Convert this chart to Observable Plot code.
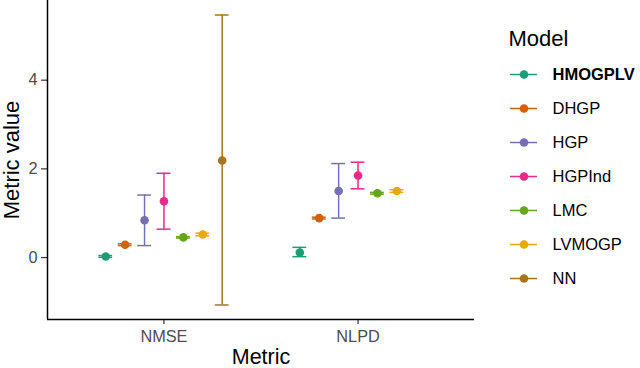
<!DOCTYPE html>
<html>
<head>
<meta charset="utf-8">
<script src="https://cdn.jsdelivr.net/npm/d3@7"></script>
<script src="https://cdn.jsdelivr.net/npm/@observablehq/plot@0.6"></script>
<style>
  body { margin: 0; background: white; }
  #wrap { position: relative; width: 640px; height: 368px; overflow: hidden; }
  #wrap svg { position: absolute; left: 0; top: 0; }
</style>
</head>
<body>
<div id="wrap"></div>
<script>
const metrics = ["NMSE", "NLPD"];
const models = ["HMOGPLV", "DHGP", "HGP", "HGPInd", "LMC", "LVMOGP", "NN"];
const colors = ["#1B9E77", "#D95F02", "#7570B3", "#E7298A", "#66A61E", "#E6AB02", "#A6761D"];
const nmseMean = [0.025, 0.29, 0.84, 1.27, 0.455, 0.52, 2.19];
const nmseLo   = [0.005, 0.27, 0.27, 0.64, 0.44, 0.49, -1.07];
const nmseHi   = [0.045, 0.31, 1.41, 1.90, 0.47, 0.55, 5.47];
const nlpdMean = [0.115, 0.89, 1.50, 1.85, 1.45, 1.50, null];
const nlpdLo   = [0.02, 0.87, 0.89, 1.55, 1.43, 1.47, null];
const nlpdHi   = [0.23, 0.91, 2.12, 2.15, 1.47, 1.53, null];
const yTicks = [0, 2, 4];

const font = "'Liberation Sans', Arial, Helvetica, sans-serif";

// build rows with dodge (width 0.7 across 7 models)
const series = [[nmseMean, nmseLo, nmseHi], [nlpdMean, nlpdLo, nlpdHi]];
const rows = [];
metrics.forEach((m, mi) => {
  models.forEach((mod, k) => {
    const [me, lo, hi] = series[mi];
    if (me[k] == null) return;
    rows.push({metric: m, model: mod, x: mi + 1 + (k - 3) * 0.1, mean: me[k], lo: lo[k], hi: hi[k]});
  });
});
const capHalf = 0.5 / 7 / 2;

// ggplot-style expansion
const allLo = d3.min(rows, d => d.lo), allHi = d3.max(rows, d => d.hi);
const pad = (allHi - allLo) * 0.05;
const xDomain = [0.4, 2.6];
const yDomain = [allLo - pad, allHi + pad];

const main = Plot.plot({
  width: 640, height: 368,
  marginLeft: 47, marginRight: 166, marginTop: 0, marginBottom: 49,
  style: {fontFamily: font, fontSize: "16.3px", color: "#4D4D4D", background: "white"},
  x: {domain: xDomain, label: null, axis: null},
  y: {domain: yDomain, label: null, axis: null},
  color: {domain: models, range: colors},
  marks: [
    Plot.axisX({ticks: [1, 2], tickFormat: i => metrics[i - 1], tickSize: 5, tickPadding: 6, label: null, stroke: "#333333", fill: "#4D4D4D", strokeWidth: 1.2}),
    Plot.axisY({ticks: yTicks, tickSize: 6, tickPadding: 4, label: null, stroke: "#333333", fill: "#4D4D4D", strokeWidth: 1.2}),
    Plot.ruleX([xDomain[0]], {stroke: "black", strokeWidth: 1.5}),
    Plot.ruleY([yDomain[0]], {stroke: "black", strokeWidth: 1.5}),
    Plot.ruleX(rows, {x: "x", y1: "lo", y2: "hi", stroke: "model", strokeWidth: 1.5}),
    Plot.ruleY(rows, {x1: d => d.x - capHalf, x2: d => d.x + capHalf, y: "hi", stroke: "model", strokeWidth: 1.5}),
    Plot.ruleY(rows, {x1: d => d.x - capHalf, x2: d => d.x + capHalf, y: "lo", stroke: "model", strokeWidth: 1.5}),
    Plot.dot(rows, {x: "x", y: "mean", fill: "model", r: 4.3}),
    Plot.text(["Metric"], {frameAnchor: "bottom", dy: 37.4, fontSize: 21.5, fill: "black", textAnchor: "middle", lineAnchor: "middle"}),
    Plot.text(["Metric value"], {frameAnchor: "left", dx: -35.9, rotate: -90, fontSize: 22, fill: "black", textAnchor: "middle", lineAnchor: "middle"})
  ]
});

const legend = Plot.plot({
  width: 640, height: 368,
  marginLeft: 510, marginRight: 103, marginTop: 73.3, marginBottom: 89.7,
  style: {fontFamily: font, fontSize: "16.5px", color: "black", background: "transparent"},
  y: {type: "point", domain: models, padding: 0, axis: null},
  color: {domain: models, range: colors},
  marks: [
    Plot.tickY(models, {y: d => d, stroke: d => d, strokeWidth: 1.5}),
    Plot.dot(models, {y: d => d, fill: d => d, r: 4.3}),
    Plot.text(models.filter(m => m !== "HMOGPLV"), {y: d => d, text: d => d, frameAnchor: "right", dx: 15, textAnchor: "start", lineAnchor: "middle", fill: "black", fontSize: 16.5}),
    Plot.text(models.filter(m => m === "HMOGPLV"), {y: d => d, text: d => d, frameAnchor: "right", dx: 15, textAnchor: "start", lineAnchor: "middle", fill: "black", fontSize: 16.5, fontWeight: "bold"}),
    Plot.text(["Model"], {frameAnchor: "top-left", dx: -2, dy: -35.3, textAnchor: "start", lineAnchor: "middle", fill: "black", fontSize: 22})
  ]
});

const wrap = document.getElementById("wrap");
wrap.appendChild(main);
wrap.appendChild(legend);
</script>
</body>
</html>
